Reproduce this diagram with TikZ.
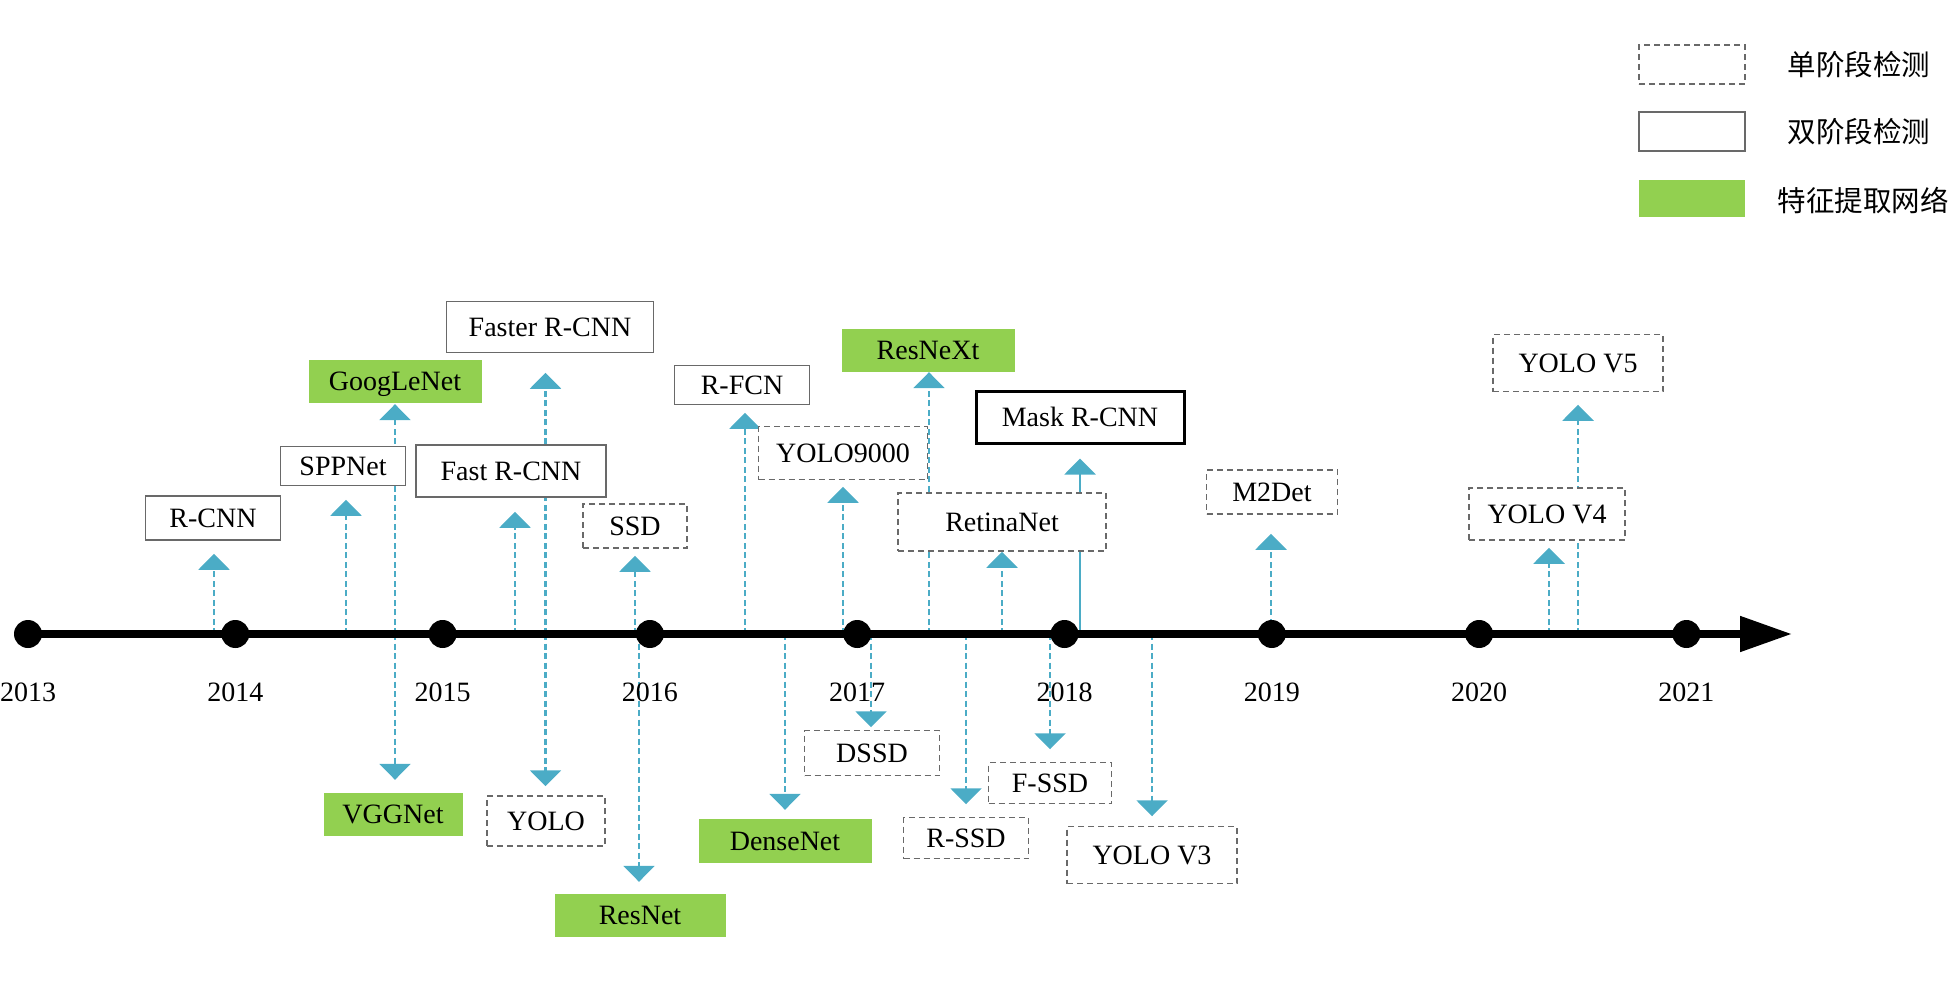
\documentclass[tikz,border=0pt]{standalone}
\usepackage{fontspec}
\setmainfont{Liberation Serif}
\newfontfamily\cjk{Noto Sans CJK SC}
\usetikzlibrary{arrows.meta,backgrounds}
\definecolor{cyanline}{RGB}{75,172,198}
\definecolor{featgreen}{RGB}{146,208,80}
\definecolor{boxgray}{RGB}{105,105,105}
\begin{document}
\begin{tikzpicture}[x=1pt,y=-1pt,
  lbl/.style={font=\fontsize{28}{32}\selectfont, text height=18.5pt, text depth=0pt, inner sep=0pt, align=center},
  bsize/.style 2 args={minimum width=#1pt, minimum height=#2pt},
  onestage/.style={lbl, draw=boxgray, line width=1.5pt, dash pattern=on 6pt off 4pt, fill=white},
  twostage/.style={lbl, draw=boxgray, line width=1.5pt, fill=white},
  twothick/.style={lbl, draw=black, line width=3pt, fill=white},
  feature/.style={lbl, fill=featgreen},
  year/.style={font=\fontsize{28}{32}\selectfont, anchor=base, inner sep=0pt},
  legtext/.style={font=\cjk\fontsize{28.5}{32}\selectfont, inner sep=0pt},
  dashconn/.style={draw=cyanline, line width=2.2pt, dash pattern=on 6pt off 3.5pt, -{Triangle[width=31pt,length=16pt,fill=cyanline]}},
  solidconn/.style={draw=cyanline, line width=2.2pt, -{Triangle[width=31pt,length=16pt,fill=cyanline]}},
  dot/.style={circle, fill=black, minimum size=28pt, inner sep=0pt}
]
\useasboundingbox (0,0) rectangle (1950,984);

% legend
\node[onestage, bsize={106}{39}] (leg1) at (1692,64.5) {};
\node[twostage, bsize={106}{39}] (leg2) at (1692,131.5) {};
\node[feature, bsize={106}{37}] (leg3) at (1692,198.5) {};
\node[legtext] (legt1) at (1859,65) {单阶段检测};
\node[legtext] (legt2) at (1859,132) {双阶段检测};
\node[legtext] (legt3) at (1863,200) {特征提取网络};

% boxes above
\node[twostage, bsize={135}{44}] (rcnn) at (213,518) {R-CNN};
\node[twostage, bsize={125}{39}] (spp) at (343,466) {SPPNet};
\node[feature, bsize={173}{43}] (goog) at (395,381) {GoogLeNet};
\node[twostage, bsize={190}{52}] (fast) at (511,471) {Fast R-CNN};
\node[twostage, bsize={207}{51}] (faster) at (550,327) {Faster R-CNN};
\node[onestage, bsize={104}{44}] (ssd) at (635,526) {SSD};
\node[twostage, bsize={135}{39}] (rfcn) at (742,385) {R-FCN};
\node[feature, bsize={173}{43}] (resnext) at (928,350) {ResNeXt};
\node[onestage, bsize={169}{53}] (yolo9000) at (843,453) {YOLO9000};
\node[twothick, bsize={208}{52}] (mask) at (1080,417) {Mask R-CNN};
\node[onestage, bsize={208}{58}] (retina) at (1002,522) {RetinaNet};
\node[onestage, bsize={131}{44}] (m2det) at (1272,492) {M2Det};
\node[onestage, bsize={170}{57}] (yolov5) at (1578,363) {YOLO V5};
\node[onestage, bsize={156}{52}] (yolov4) at (1547,514) {YOLO V4};

% boxes below
\node[feature, bsize={139}{43}] (vgg) at (393,814) {VGGNet};
\node[onestage, bsize={118}{50}] (yolo) at (546,821) {YOLO};
\node[feature, bsize={171}{43}] (resnet) at (640,915) {ResNet};
\node[feature, bsize={173}{44}] (densenet) at (785,841) {DenseNet};
\node[onestage, bsize={135}{45}] (dssd) at (872,753) {DSSD};
\node[onestage, bsize={125}{41}] (rssd) at (966,838) {R-SSD};
\node[onestage, bsize={123}{41}] (fssd) at (1050,783) {F-SSD};
\node[onestage, bsize={170}{57}] (yolov3) at (1152,855) {YOLO V3};

% points on the timeline
\coordinate (p1) at (214,634);
\coordinate (p2) at (346,634);
\coordinate (p3) at (395,634);
\coordinate (p4) at (515,634);
\coordinate (p5) at (545.5,634);
\coordinate (p6) at (635,634);
\coordinate (p7) at (639,634);
\coordinate (p8) at (745,634);
\coordinate (p9) at (785,634);
\coordinate (p10) at (843,634);
\coordinate (p11) at (871,634);
\coordinate (p12) at (929,634);
\coordinate (p13) at (966,634);
\coordinate (p14) at (1002,634);
\coordinate (p15) at (1050,634);
\coordinate (p16) at (1080,634);
\coordinate (p17) at (1152,634);
\coordinate (p18) at (1271,634);
\coordinate (p19) at (1549,634);
\coordinate (p20) at (1578,634);

\begin{pgfonlayer}{background}
\draw[dashconn, shorten >=13pt] (p1) -- (p1 |- rcnn.south);
\draw[dashconn, shorten >=13.5pt] (p2) -- (p2 |- spp.south);
\draw[dashconn, shorten >=1.5pt] (p3) -- (p3 |- goog.south);
\draw[dashconn, shorten >=12.5pt] (p3) -- (p3 |- vgg.north);
\draw[dashconn, shorten >=14pt] (p4) -- (p4 |- fast.south);
\draw[dashconn, shorten >=19.5pt] (p5) -- (p5 |- faster.south);
\draw[dashconn, shorten >=9pt] (p5) -- (p5 |- yolo.north);
\draw[dashconn, shorten >=7pt] (p6) -- (p6 |- ssd.south);
\draw[dashconn, shorten >=11.5pt] (p7) -- (p7 |- resnet.north);
\draw[dashconn, shorten >=7.5pt] (p8) -- (p8 |- rfcn.south);
\draw[dashconn, shorten >=9pt] (p9) -- (p9 |- densenet.north);
\draw[dashconn, shorten >=6.5pt] (p10) -- (p10 |- yolo9000.south);
\draw[dashconn, shorten >=2.5pt] (p11) -- (p11 |- dssd.north);
\draw[dashconn, shorten >=0.5pt] (p12) -- (p12 |- resnext.south);
\draw[dashconn, shorten >=12.5pt] (p13) -- (p13 |- rssd.north);
\draw[dashconn, shorten >=0pt] (p14) -- (p14 |- retina.south);
\draw[dashconn, shorten >=12.5pt] (p15) -- (p15 |- fssd.north);
\draw[solidconn, shorten >=14pt] (p16) -- (p16 |- mask.south);
\draw[dashconn, shorten >=9.5pt] (p17) -- (p17 |- yolov3.north);
\draw[dashconn, shorten >=19pt] (p18) -- (p18 |- m2det.south);
\draw[dashconn, shorten >=7pt] (p19) -- (p19 |- yolov4.south);
\draw[dashconn, shorten >=12.5pt] (p20) -- (p20 |- yolov5.south);
\end{pgfonlayer}

% timeline
\node[dot] (d2013) at (28,634) {};
\node[dot] (d2014) at (235.3,634) {};
\node[dot] (d2015) at (442.6,634) {};
\node[dot] (d2016) at (649.9,634) {};
\node[dot] (d2017) at (857.2,634) {};
\node[dot] (d2018) at (1064.5,634) {};
\node[dot] (d2019) at (1271.8,634) {};
\node[dot] (d2020) at (1479.1,634) {};
\node[dot] (d2021) at (1686.4,634) {};
\coordinate (tip) at (1792,634);
\draw[line width=8pt, -{Triangle[width=34pt,length=52pt]}] (d2013.center) -- (tip);

\node[year] (y2013) at (28,701) {2013};
\node[year] (y2014) at (235.3,701) {2014};
\node[year] (y2015) at (442.6,701) {2015};
\node[year] (y2016) at (649.9,701) {2016};
\node[year] (y2017) at (857.2,701) {2017};
\node[year] (y2018) at (1064.5,701) {2018};
\node[year] (y2019) at (1271.8,701) {2019};
\node[year] (y2020) at (1479.1,701) {2020};
\node[year] (y2021) at (1686.4,701) {2021};
\end{tikzpicture}
\end{document}
